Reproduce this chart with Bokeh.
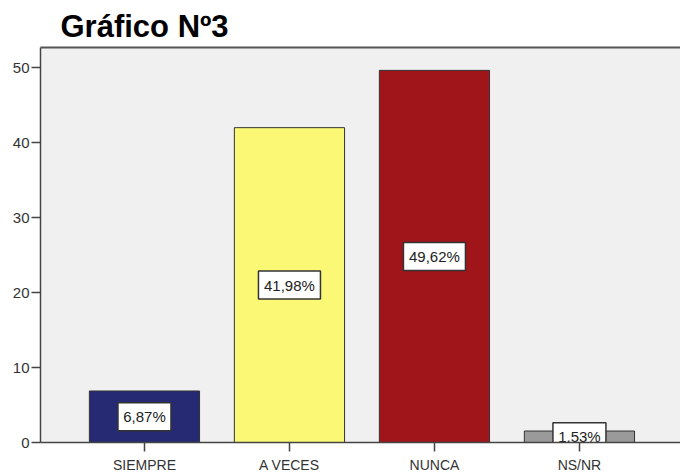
from bokeh.plotting import figure
from bokeh.models import ColumnDataSource, Range1d, FixedTicker, LinearAxis
from bokeh.core.properties import value
from bokeh.embed import file_html
from bokeh.resources import INLINE

categories = ["SIEMPRE", "A VECES", "NUNCA", "NS/NR"]
values = [6.87, 41.98, 49.62, 1.53]
labels = ["6,87%", "41,98%", "49,62%", "1,53%"]
colors = ["#262a73", "#fbf875", "#a0151a", "#9a9a9a"]
y_ticks = [0, 10, 20, 30, 40, 50]

xs = list(range(len(categories)))
src = ColumnDataSource(dict(x=xs, top=values, mid=[v / 2 for v in values],
                            label=labels, color=colors,
                            bw=[9 * len(s) + 8 for s in labels]))

p = figure(width=680, height=476, output_backend="svg", toolbar_location=None,
           x_range=Range1d(-0.717, 3.697), y_range=Range1d(0, 52.67),
           min_border_left=40, min_border_right=0, min_border_top=47,
           min_border_bottom=34, background_fill_color="#f0f0f0",
           border_fill_color="white")

p.title.text = "Gráfico Nº3"
p.title.text_font = "Liberation Sans"
p.title.text_font_size = "31px"
p.title.text_font_style = "bold"
p.title.text_color = "black"
p.title.align = "left"
p.title.offset = 20
p.title.standoff = 7

p.vbar(x="x", top="top", width=0.76, source=src, fill_color="color",
       line_color="#333333", line_width=1)

p.rect(x="x", y="mid", width="bw", height=28, width_units="screen",
       height_units="screen", source=src, fill_color="white",
       line_color="#333333", line_width=1.5)
p.text(x="x", y="mid", text="label", source=src, text_align="center",
       text_baseline="middle", text_font=value("Liberation Sans"),
       text_font_size="15px", text_color="#222222")

p.xgrid.visible = False
p.ygrid.visible = False
p.outline_line_color = None

bottom_axis = p.below[0]
left_axis = p.left[0]

top_axis = LinearAxis(ticker=FixedTicker(ticks=[]), axis_line_color="#555555",
                      axis_line_width=2, major_tick_line_color=None,
                      minor_tick_line_color=None, major_tick_out=0,
                      major_tick_in=0, major_label_standoff=0,
                      major_label_text_font_size="0px")
p.add_layout(top_axis, "above")

bottom_axis.ticker = FixedTicker(ticks=xs)
bottom_axis.major_label_overrides = {i: c for i, c in enumerate(categories)}
left_axis.ticker = FixedTicker(ticks=y_ticks)
for ax in (bottom_axis, left_axis):
    ax.axis_line_color = "#444444"
    ax.axis_line_width = 1.5
    ax.major_tick_line_color = "#444444"
    ax.major_tick_line_width = 1.5
    ax.major_tick_out = 9
    ax.major_tick_in = 0
    ax.minor_tick_line_color = None
    ax.major_label_text_font = "Liberation Sans"
    ax.major_label_text_color = "#333333"
bottom_axis.major_label_text_font_size = "14px"
left_axis.major_label_text_font_size = "15px"
bottom_axis.major_label_standoff = 5
left_axis.major_label_standoff = 2

open("out.html", "w").write(file_html(p, INLINE))
